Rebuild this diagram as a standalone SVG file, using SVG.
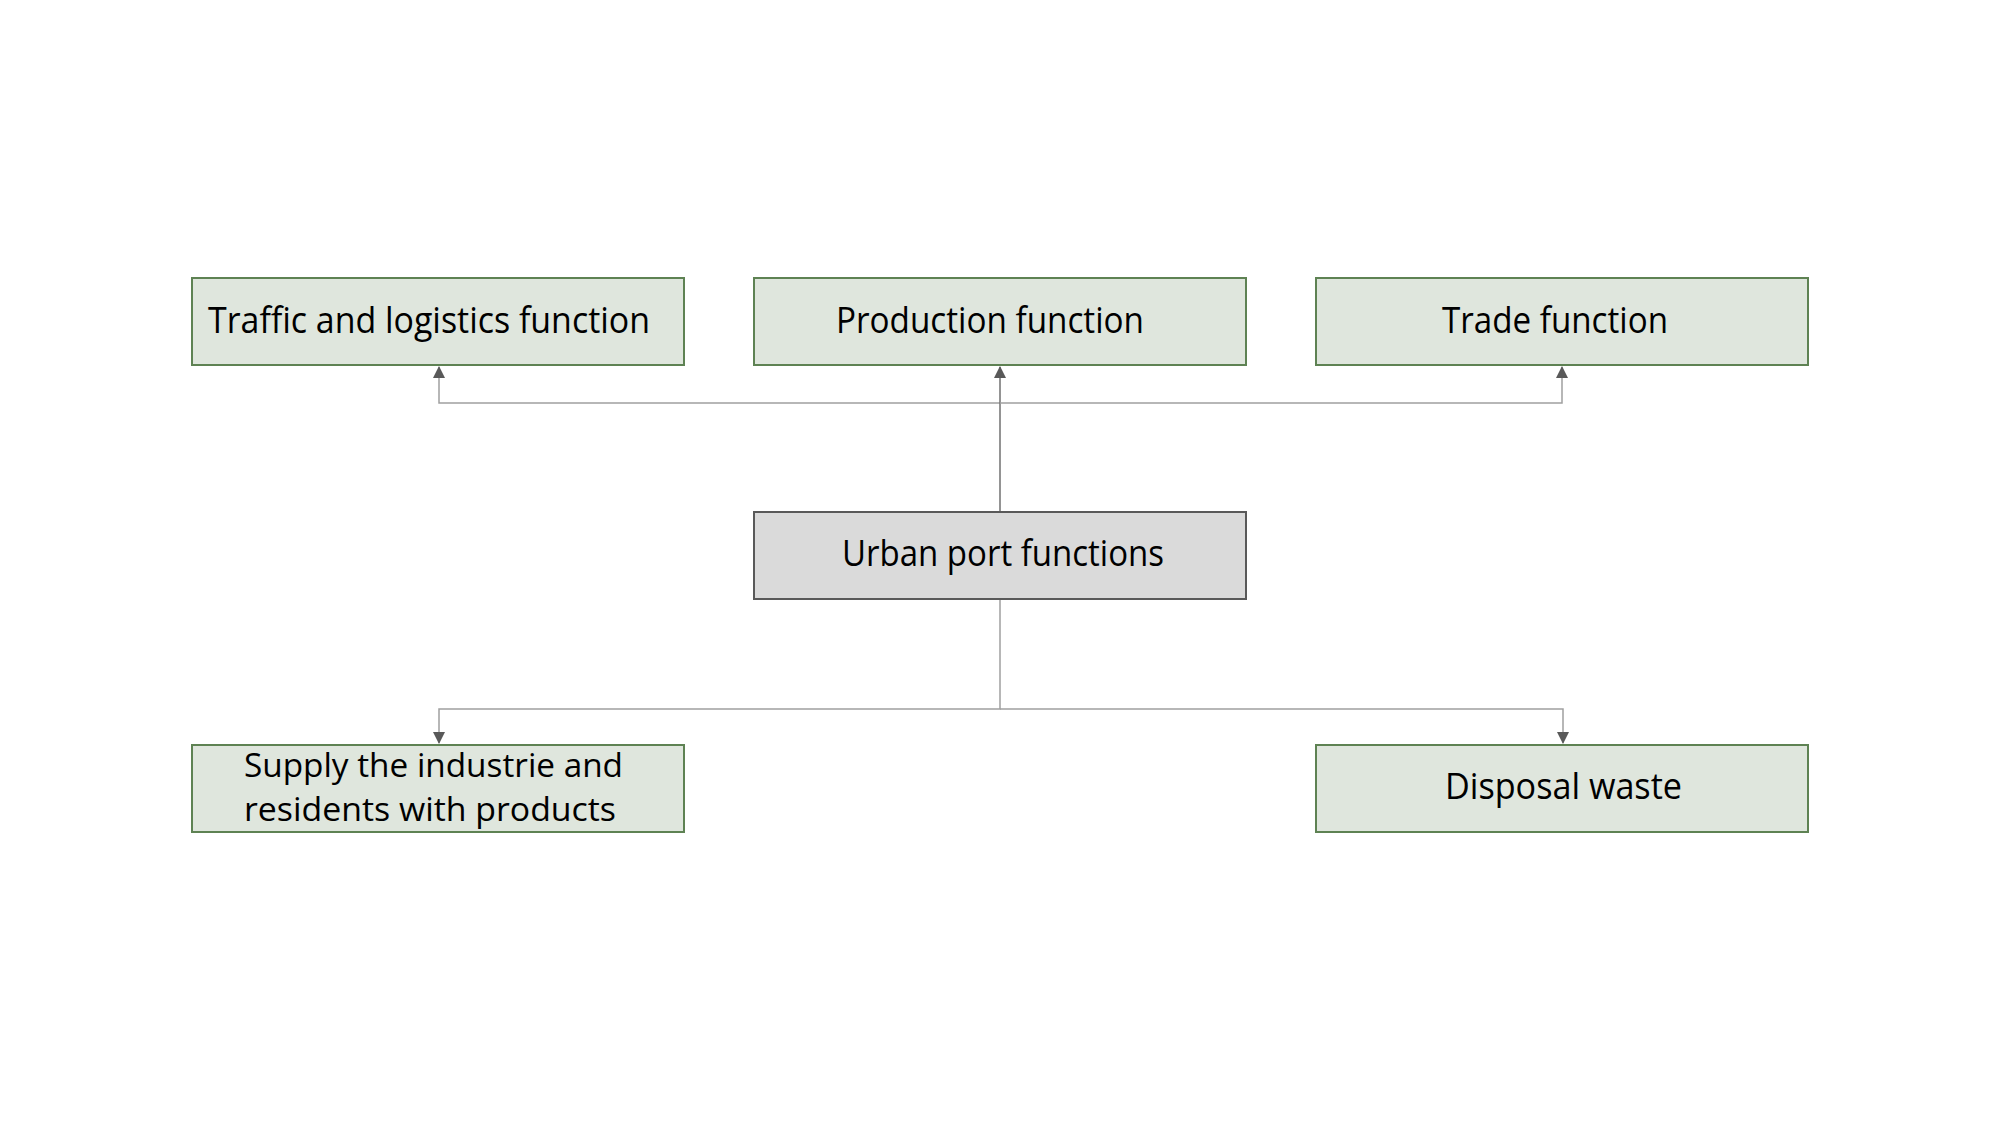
<svg xmlns="http://www.w3.org/2000/svg" width="2000" height="1125" viewBox="0 0 2000 1125">
<style>
.g{fill:#dfe6dd;stroke:#5e8253;stroke-width:2}
.c{fill:#dadada;stroke:#595959;stroke-width:2}
.t{font-family:"Open Sans","Noto Sans",sans-serif;font-size:36px;fill:#000}
.s{font-size:33px}
.ln{fill:none;stroke:#a0a0a0;stroke-width:1.5}
.dk{fill:none;stroke:#707070;stroke-width:1.5}
</style>
<defs>
<marker id="ah" markerWidth="12" markerHeight="12" refX="11" refY="6" orient="auto" markerUnits="userSpaceOnUse" viewBox="0 0 12 12">
<path d="M0,0 L12,6 L0,12 Z" fill="#595959"/>
</marker>
</defs>
<rect width="2000" height="1125" fill="#fff"/>
<g id="connectors">
<path class="ln" d="M1000,403 H439 V367" marker-end="url(#ah)"/>
<path class="dk" d="M1000,511 V367" marker-end="url(#ah)"/>
<path class="ln" d="M1000,403 H1562 V367" marker-end="url(#ah)"/>
<path class="ln" d="M1000,599 V709 H439 V743" marker-end="url(#ah)"/>
<path class="ln" d="M1000,709 H1563 V743" marker-end="url(#ah)"/>
</g>
<g id="traffic">
<rect class="g" x="192" y="278" width="492" height="87"/>
<text class="t" x="208" y="333" textLength="442" lengthAdjust="spacingAndGlyphs">Traffic and logistics function</text>
</g>
<g id="production">
<rect class="g" x="754" y="278" width="492" height="87"/>
<text class="t" x="836" y="333" textLength="308" lengthAdjust="spacingAndGlyphs">Production function</text>
</g>
<g id="trade">
<rect class="g" x="1316" y="278" width="492" height="87"/>
<text class="t" x="1442" y="333" textLength="226" lengthAdjust="spacingAndGlyphs">Trade function</text>
</g>
<g id="urban">
<rect class="c" x="754" y="512" width="492" height="87"/>
<text class="t" x="842" y="566" textLength="322" lengthAdjust="spacingAndGlyphs">Urban port functions</text>
</g>
<g id="supply">
<rect class="g" x="192" y="745" width="492" height="87"/>
<text class="t s" x="244" y="777" textLength="379" lengthAdjust="spacingAndGlyphs">Supply the industrie and</text>
<text class="t s" x="244" y="821" textLength="372" lengthAdjust="spacingAndGlyphs">residents with products</text>
</g>
<g id="disposal">
<rect class="g" x="1316" y="745" width="492" height="87"/>
<text class="t" x="1445" y="799" textLength="237" lengthAdjust="spacingAndGlyphs">Disposal waste</text>
</g>
</svg>
